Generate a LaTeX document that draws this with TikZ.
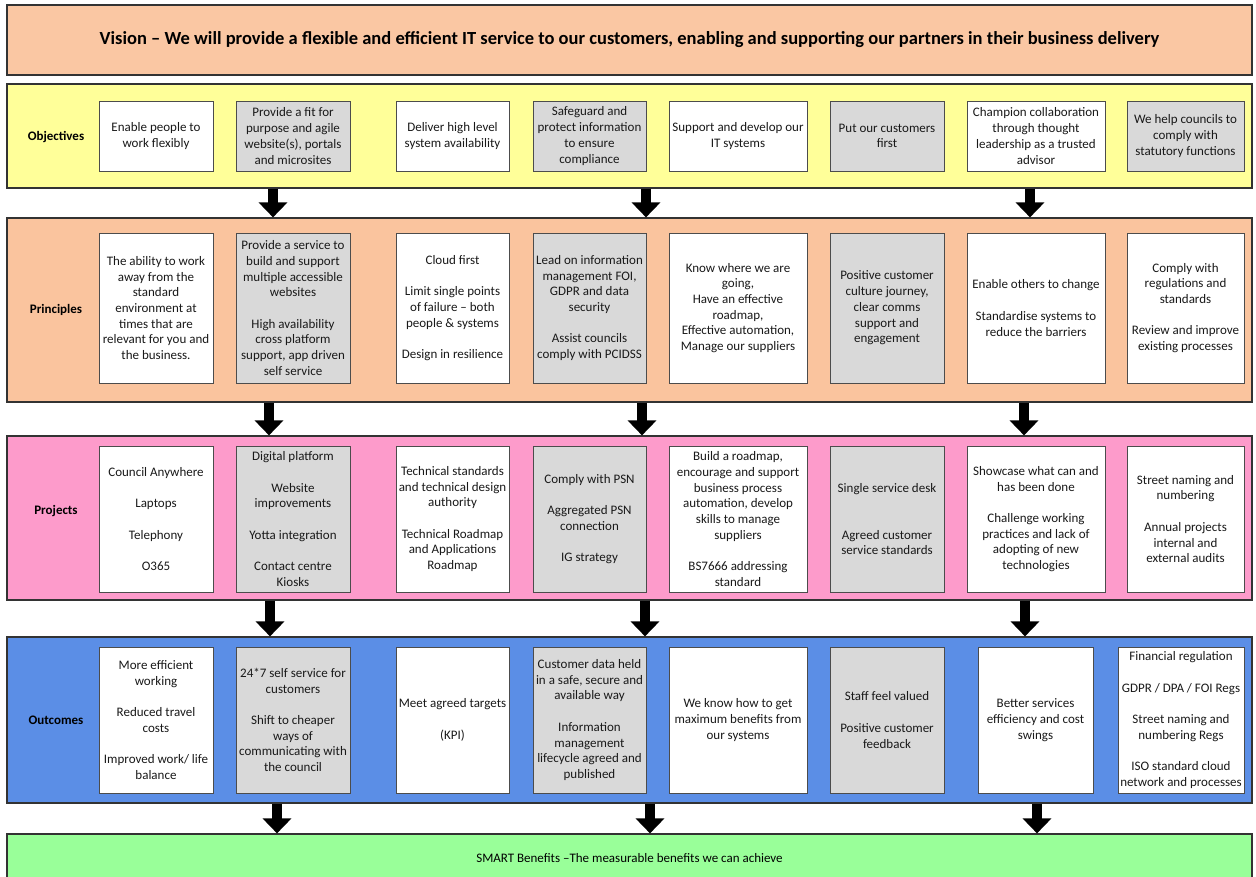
\documentclass[tikz,border=0pt]{standalone}
\usepackage{fontspec}
\setmainfont{Carlito}
\usetikzlibrary{arrows.meta}

\definecolor{visionpeach}{HTML}{FAC7A3}
\definecolor{objyellow}{HTML}{FFFF99}
\definecolor{prinpeach}{HTML}{FAC49E}
\definecolor{projpink}{HTML}{FD9BCB}
\definecolor{outblue}{HTML}{5B8EE6}
\definecolor{smartgreen}{HTML}{99FF99}
\definecolor{boxgrey}{HTML}{D9D9D9}

\begin{document}
\begin{tikzpicture}[
  x=1pt, y=-1pt,
  band/.style = {draw=black!80, line width=1.2pt, minimum width=1245, inner sep=0pt},
  whitebox/.style = {draw=black!70, line width=1pt, fill=white, align=center, inner sep=1pt, text=black!90, font=\fontsize{13}{15.7}\selectfont},
  greybox/.style = {whitebox, fill=boxgrey},
  rowlabel/.style = {font=\bfseries\fontsize{13}{15.7}\selectfont},
  bigarrow/.style = {line width=10pt, -{Triangle[width=28pt,length=15pt]}},
  objrow/.style = {minimum height=70},
  prirow/.style = {minimum height=150},
  prorow/.style = {minimum height=146},
  outrow/.style = {minimum height=146}
  ]
  \useasboundingbox (0,0) rectangle (1256,876);

  % bands
  \node[band, fill=visionpeach, minimum height=70, font=\bfseries\fontsize{18.5}{22}\selectfont] (vision) at (629.5,40)
    {Vision – We will provide a flexible and efficient IT service to our customers, enabling and supporting our partners in their business delivery};
  \node[band, fill=objyellow, minimum height=104] (obj) at (629.5,136) {};
  \node[band, fill=prinpeach, minimum height=184] (pri) at (629.5,310) {};
  \node[band, fill=projpink, minimum height=164] (pro) at (629.5,518) {};
  \node[band, fill=outblue, minimum height=166] (out) at (629.5,720) {};
  \node[band, fill=smartgreen, minimum height=48, font=\fontsize{13}{15.7}\selectfont] (smart) at (629.5,858)
    {SMART Benefits –The measurable benefits we can achieve};

  \node[rowlabel] (objlbl) at (56,137) {Objectives};
  \node[rowlabel] (prilbl) at (56,310) {Principles};
  \node[rowlabel] (prolbl) at (56,511) {Projects};
  \node[rowlabel] (outlbl) at (56,720) {Outcomes};

  % objectives
  \node[whitebox, objrow, minimum width=114] (o1) at (156,136) {Enable people to\\work flexibly};
  \node[greybox, objrow, minimum width=114] (o2) at (293,136) {Provide a fit for\\purpose and agile\\website(s), portals\\and microsites};
  \node[whitebox, objrow, minimum width=113] (o3) at (452.5,136) {Deliver high level\\system availability};
  \node[greybox, objrow, minimum width=113] (o4) at (589.5,136) {Safeguard and\\protect information\\to ensure\\compliance};
  \node[whitebox, objrow, minimum width=138] (o5) at (738,136) {Support and develop our\\IT systems};
  \node[greybox, objrow, minimum width=114] (o6) at (887,136) {Put our customers\\first};
  \node[whitebox, objrow, minimum width=138] (o7) at (1036,136) {Champion collaboration\\through thought\\leadership as a trusted\\advisor};
  \node[greybox, objrow, minimum width=117] (o8) at (1185.5,136) {We help councils to\\comply with\\statutory functions};

  % principles
  \node[whitebox, prirow, minimum width=114] (p1) at (156,308) {The ability to work\\away from the\\standard\\environment at\\times that are\\relevant for you and\\the business.};
  \node[greybox, prirow, minimum width=114] (p2) at (293,308) {Provide a service to\\build and support\\multiple accessible\\websites\\[15.7pt]High availability\\cross platform\\support, app driven\\self service};
  \node[whitebox, prirow, minimum width=113] (p3) at (452.5,308) {Cloud first\\[15.7pt]Limit single points\\of failure – both\\people \& systems\\[15.7pt]Design in resilience};
  \node[greybox, prirow, minimum width=113] (p4) at (589.5,308) {Lead on information\\management FOI,\\GDPR and data\\security\\[15.7pt]Assist councils\\comply with PCIDSS};
  \node[whitebox, prirow, minimum width=138] (p5) at (738,308) {Know where we are\\going,\\Have an effective\\roadmap,\\Effective automation,\\Manage our suppliers};
  \node[greybox, prirow, minimum width=114] (p6) at (887,308) {Positive customer\\culture journey,\\clear comms\\support and\\engagement};
  \node[whitebox, prirow, minimum width=138] (p7) at (1036,308) {Enable others to change\\[15.7pt]Standardise systems to\\reduce the barriers};
  \node[whitebox, prirow, minimum width=117] (p8) at (1185.5,308) {Comply with\\regulations and\\standards\\[15.7pt]Review and improve\\existing processes};

  % projects
  \node[whitebox, prorow, minimum width=114] (r1) at (156,519) {Council Anywhere\\[15.7pt]Laptops\\[15.7pt]Telephony\\[15.7pt]O365};
  \node[greybox, prorow, minimum width=114] (r2) at (293,519) {Digital platform\\[15.7pt]Website\\improvements\\[15.7pt]Yotta integration\\[15.7pt]Contact centre\\Kiosks};
  \node[whitebox, prorow, minimum width=113] (r3) at (452.5,519) {Technical standards\\and technical design\\authority\\[15.7pt]Technical Roadmap\\and Applications\\Roadmap};
  \node[greybox, prorow, minimum width=113] (r4) at (589.5,519) {Comply with PSN\\[15.7pt]Aggregated PSN\\connection\\[15.7pt]IG strategy};
  \node[whitebox, prorow, minimum width=138] (r5) at (738,519) {Build a roadmap,\\encourage and support\\business process\\automation, develop\\skills to manage\\suppliers\\[15.7pt]BS7666 addressing\\standard};
  \node[greybox, prorow, minimum width=114] (r6) at (887,519) {Single service desk\\[31.4pt]Agreed customer\\service standards};
  \node[whitebox, prorow, minimum width=138] (r7) at (1036,519) {Showcase what can and\\has been done\\[15.7pt]Challenge working\\practices and lack of\\adopting of new\\technologies};
  \node[whitebox, prorow, minimum width=117] (r8) at (1185.5,519) {Street naming and\\numbering\\[15.7pt]Annual projects\\internal and\\external audits};

  % outcomes
  \node[whitebox, outrow, minimum width=114] (u1) at (156,720) {More efficient\\working\\[15.7pt]Reduced travel\\costs\\[15.7pt]Improved work/ life\\balance};
  \node[greybox, outrow, minimum width=114] (u2) at (293,720) {24*7 self service for\\customers\\[15.7pt]Shift to cheaper\\ways of\\communicating with\\the council};
  \node[whitebox, outrow, minimum width=113] (u3) at (452.5,720) {Meet agreed targets\\[15.7pt](KPI)};
  \node[greybox, outrow, minimum width=113] (u4) at (589.5,720) {Customer data held\\in a safe, secure and\\available way\\[15.7pt]Information\\management\\lifecycle agreed and\\published};
  \node[whitebox, outrow, minimum width=138] (u5) at (738,720) {We know how to get\\maximum benefits from\\our systems};
  \node[greybox, outrow, minimum width=114] (u6) at (887,720) {Staff feel valued\\[15.7pt]Positive customer\\feedback};
  \node[whitebox, outrow, minimum width=115] (u7) at (1035.5,720) {Better services\\efficiency and cost\\swings};
  \node[whitebox, outrow, minimum width=126] (u8) at (1181,720) {Financial regulation\\[15.7pt]GDPR / DPA / FOI Regs\\[15.7pt]Street naming and\\numbering Regs\\[15.7pt]ISO standard cloud\\network and processes};

  % arrows between bands
  \draw[bigarrow] (obj.south -| 273,0) -- (pri.north -| 273,0);
  \draw[bigarrow] (obj.south -| 646,0) -- (pri.north -| 646,0);
  \draw[bigarrow] (obj.south -| 1030,0) -- (pri.north -| 1030,0);
  \draw[bigarrow] (pri.south -| 269,0) -- (pro.north -| 269,0);
  \draw[bigarrow] (pri.south -| 642,0) -- (pro.north -| 642,0);
  \draw[bigarrow] (pri.south -| 1024,0) -- (pro.north -| 1024,0);
  \draw[bigarrow] (pro.south -| 270,0) -- (out.north -| 270,0);
  \draw[bigarrow] (pro.south -| 645,0) -- (out.north -| 645,0);
  \draw[bigarrow] (pro.south -| 1025,0) -- (out.north -| 1025,0);
  \draw[bigarrow] (out.south -| 277,0) -- (smart.north -| 277,0);
  \draw[bigarrow] (out.south -| 650,0) -- (smart.north -| 650,0);
  \draw[bigarrow] (out.south -| 1037,0) -- (smart.north -| 1037,0);

\end{tikzpicture}
\end{document}
